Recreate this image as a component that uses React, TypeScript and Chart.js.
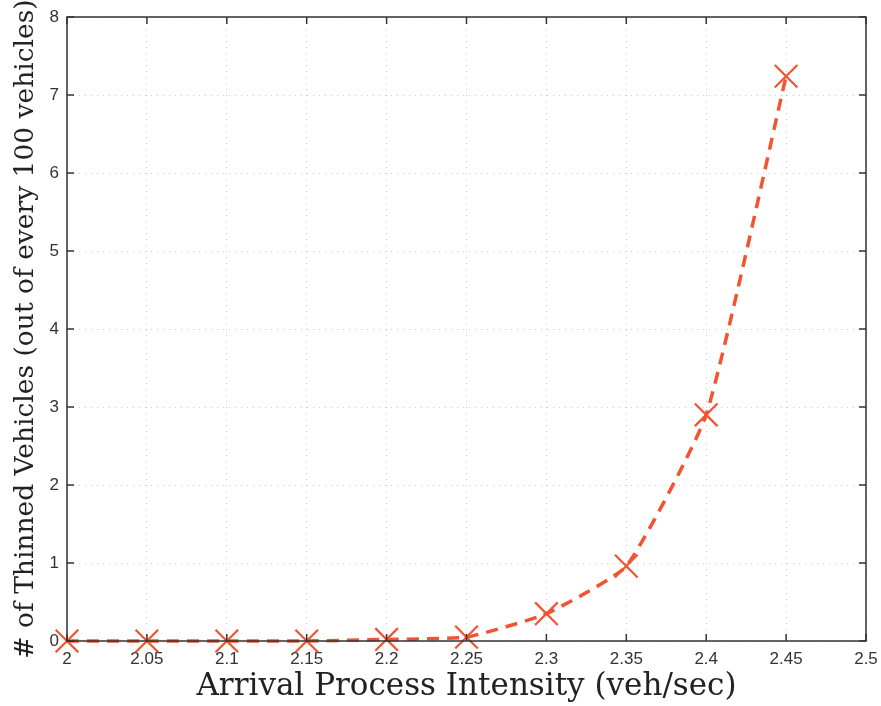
import React, { useEffect, useRef } from "react";
import { Chart, registerables } from "chart.js";

Chart.register(...registerables);

const intensities = [2, 2.05, 2.1, 2.15, 2.2, 2.25, 2.3, 2.35, 2.4, 2.45];
const thinned = [0, 0, 0, 0, 0.02, 0.05, 0.35, 0.96, 2.9, 7.24];
const xTicks = [2, 2.05, 2.1, 2.15, 2.2, 2.25, 2.3, 2.35, 2.4, 2.45, 2.5];
const yTicks = [0, 1, 2, 3, 4, 5, 6, 7, 8];
const xTitle = "Arrival Process Intensity (veh/sec)";
const yTitle = "# of Thinned Vehicles (out of every 100 vehicles)";

const boxPlugin = {
  id: "boxTicks",
  afterDraw(chart: any) {
    const { ctx, chartArea } = chart;
    const { left, right, top, bottom } = chartArea;
    const xs = chart.scales.x;
    const ys = chart.scales.y;
    ctx.save();
    ctx.strokeStyle = "#333";
    ctx.lineWidth = 1.5;
    ctx.strokeRect(left, top, right - left, bottom - top);
    const L = 7;
    ctx.beginPath();
    xTicks.forEach((t) => {
      const px = xs.getPixelForValue(t);
      ctx.moveTo(px, bottom);
      ctx.lineTo(px, bottom - L);
      ctx.moveTo(px, top);
      ctx.lineTo(px, top + L);
    });
    yTicks.forEach((t) => {
      const py = ys.getPixelForValue(t);
      ctx.moveTo(left, py);
      ctx.lineTo(left + L, py);
      ctx.moveTo(right, py);
      ctx.lineTo(right - L, py);
    });
    ctx.stroke();
    ctx.restore();
  },
};

export default function App() {
  const ref = useRef<HTMLCanvasElement | null>(null);
  useEffect(() => {
    if (!ref.current) return;
    const chart = new Chart(ref.current, {
      type: "line",
      data: {
        datasets: [
          {
            data: intensities.map((x, i) => ({ x, y: thinned[i] })),
            borderColor: "#f25331",
            borderWidth: 3.5,
            borderDash: [12, 8],
            tension: 0.15,
            pointStyle: "crossRot",
            pointRadius: 16,
            pointBorderWidth: 2.2,
            pointBorderColor: "#f25331",
            pointBackgroundColor: "#f25331",
            fill: false,
            clip: false as any,
          },
        ],
      },
      options: {
        animation: false,
        responsive: false,
        maintainAspectRatio: false,
        layout: { autoPadding: false, padding: { top: 17, right: 15, left: 0, bottom: 0 } },
        plugins: { legend: { display: false }, tooltip: { enabled: false } },
        scales: {
          x: {
            type: "linear",
            min: 2,
            max: 2.5,
            afterBuildTicks: (s: any) => {
              s.ticks = xTicks.map((v) => ({ value: v }));
            },
            afterFit: (s: any) => {
              s.height = 65;
              s.paddingRight = 0;
              s.paddingLeft = 0;
            },
            border: { display: false, dash: [1, 5] },
            grid: {
              color: "#cccccc",
              lineWidth: 1,
              drawTicks: false,
            },
            ticks: {
              padding: 8,
              color: "#333",
              font: { family: "Liberation Sans", size: 17 },
              callback: (v: any) => String(Number(Number(v).toFixed(2))),
            },
            title: {
              display: true,
              text: xTitle,
              color: "#222",
              font: { family: "DejaVu Serif", size: 31 },
              padding: { top: 0, bottom: 0 },
            },
          },
          y: {
            type: "linear",
            min: 0,
            max: 8,
            afterBuildTicks: (s: any) => {
              s.ticks = yTicks.map((v) => ({ value: v }));
            },
            afterFit: (s: any) => {
              s.width = 67;
              s.paddingTop = 0;
              s.paddingBottom = 0;
            },
            border: { display: false, dash: [1, 5] },
            grid: {
              color: "#cccccc",
              lineWidth: 1,
              drawTicks: false,
            },
            ticks: {
              padding: 8,
              color: "#333",
              font: { family: "Liberation Sans", size: 17 },
            },
            title: {
              display: true,
              text: yTitle,
              color: "#222",
              font: { family: "DejaVu Serif", size: 26.5 },
              padding: { top: 10, bottom: 0 },
            },
          },
        },
      },
      plugins: [boxPlugin],
    } as any);
    return () => chart.destroy();
  }, []);
  return (
    <div style={{ position: "fixed", left: 0, top: 0, width: 881, height: 706, background: "#fff" }}>
      <canvas ref={ref} width={881} height={706} style={{ width: 881, height: 706 }} />
    </div>
  );
}
